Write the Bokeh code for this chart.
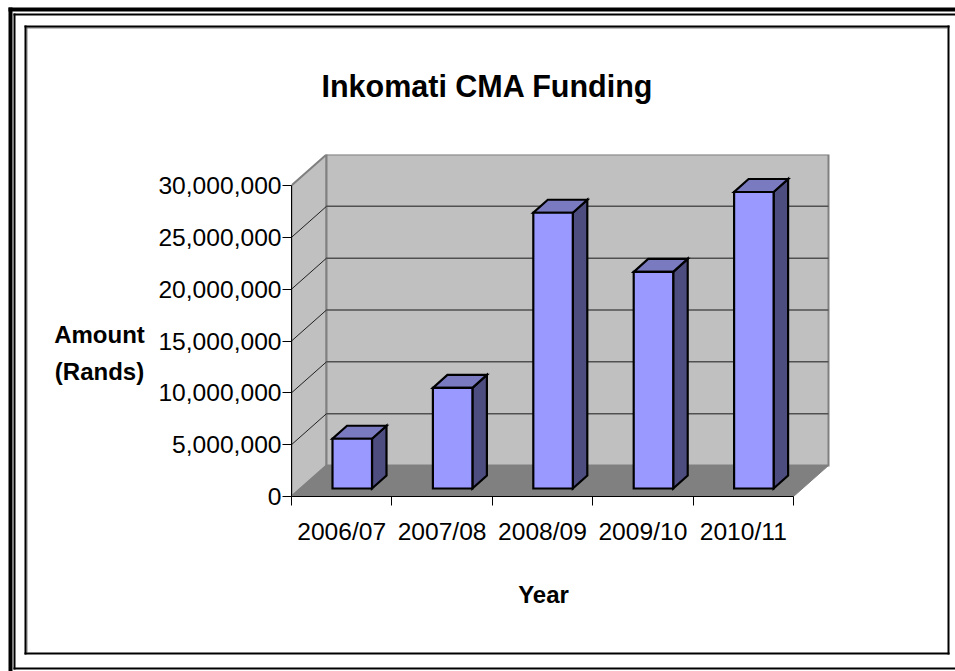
from bokeh.core.properties import value
from bokeh.embed import file_html
from bokeh.layouts import column
from bokeh.models import FixedTicker, LinearAxis, NumeralTickFormatter, Range1d
from bokeh.plotting import figure
from bokeh.resources import INLINE

# Funding per financial year, in rand
years = ["2006/07", "2007/08", "2008/09", "2009/10", "2010/11"]
amounts = [4_800_000, 9_700_000, 26_600_000, 20_900_000, 28_600_000]
y_ticks = [0, 5_000_000, 10_000_000, 15_000_000, 20_000_000, 25_000_000, 30_000_000]

# Canvas layout in pixels
W, H = 955, 671
FRAME_L, FRAME_R, FRAME_T, FRAME_B = 291, 830, 154, 496
PX_PER_CAT = 100.4
PX_PER_RAND = 311 / 30_000_000

# Oblique depth of the box and of each column, in data units
DEPTH_X, DEPTH_Y = 35 / PX_PER_CAT, 31 / PX_PER_RAND
BAR_DX, BAR_DY = 14.5 / PX_PER_CAT, 13 / PX_PER_RAND
BAR_W = 39.5 / PX_PER_CAT
BAR_LIFT = 8 / PX_PER_RAND
BAR_SHIFT = 41 / PX_PER_CAT

# Backdrop: a full-page figure in pixel coordinates for the rules and captions
page = figure(
    width=W, height=H, output_backend="svg", toolbar_location=None,
    x_range=Range1d(0, W), y_range=Range1d(H, 0),
    x_axis_type=None, y_axis_type=None,
    min_border_left=0, min_border_right=0, min_border_top=0, min_border_bottom=0,
    background_fill_color="white", border_fill_color="white",
    outline_line_color=None, margin=(0, 0, 0, 0), frame_align=False,
)
page.grid.visible = False

# Soft grey edge inside the chart's framed box
page.quad(left=[26, 26], right=[27, 947], top=[27, 27], bottom=[652, 28],
          fill_color="#808080", line_color=None)

rule_l = [8, 8, 13, 13, 13, 24, 24, 947, 24]
rule_r = [12, W, 15, W, W, 26, 949, 949, 949]
rule_t = [7, 7, 13, 13, 667, 25, 25, 25, 652]
rule_b = [H, 11, 669, 15, 669, 654, 27, 654, 654]
page.quad(left=rule_l, right=rule_r, top=rule_t, bottom=rule_b,
          fill_color="black", line_color=None)

captions = ["Inkomati CMA Funding", "Amount", "(Rands)", "Year"]
caption_x = [487, 99, 99, 543]
caption_y = [85, 334, 371, 594]
caption_size = ["30.5px", "24px", "24px", "24px"]
for text, cx, cy, size in zip(captions, caption_x, caption_y, caption_size):
    page.text([cx], [cy], text=[text], text_align="center", text_baseline="alphabetic",
              text_font=value("Liberation Sans"), text_font_style="bold",
              text_font_size=value(size), text_color="black")

# Chart: transparent figure laid over the backdrop
p = figure(
    width=W, height=H, output_backend="svg", toolbar_location=None,
    x_range=Range1d(0, (FRAME_R - FRAME_L) / PX_PER_CAT),
    y_range=Range1d(0, (FRAME_B - FRAME_T) / PX_PER_RAND),
    x_axis_type=None, y_axis_type=None,
    min_border_left=FRAME_L, min_border_right=W - FRAME_R,
    min_border_top=FRAME_T, min_border_bottom=H - FRAME_B,
    background_fill_alpha=0, border_fill_alpha=0,
    outline_line_color=None, margin=(-H, 0, 0, 0), frame_align=False,
)
p.grid.visible = False

n = len(years)

# Side wall, back wall and floor of the box
wall_line = dict(line_color="#808080", line_width=2, line_join="miter")
p.patch([0, DEPTH_X, DEPTH_X, 0], [0, DEPTH_Y, y_ticks[-1] + DEPTH_Y, y_ticks[-1]],
        fill_color="#C0C0C0", **wall_line)
p.patch([DEPTH_X, n + DEPTH_X, n + DEPTH_X, DEPTH_X],
        [DEPTH_Y, DEPTH_Y, y_ticks[-1] + DEPTH_Y, y_ticks[-1] + DEPTH_Y],
        fill_color="#C0C0C0", **wall_line)
p.patch([0, n, n + DEPTH_X, DEPTH_X], [0, 0, DEPTH_Y, DEPTH_Y],
        fill_color="#808080", line_color="#808080", line_width=1)

# Gridlines run across the back wall and slant down the side wall
grid = y_ticks[1:-1]
p.segment([DEPTH_X] * len(grid), [v + DEPTH_Y for v in grid],
          [n + DEPTH_X] * len(grid), [v + DEPTH_Y for v in grid],
          line_color="#505050", line_width=1.5)
p.segment([0] * len(grid), grid, [DEPTH_X] * len(grid), [v + DEPTH_Y for v in grid],
          line_color="#202020", line_width=1)

# Columns: side face, top face, then front face
bar_line = dict(line_color="black", line_width=2.2, line_join="miter")
for i, v in enumerate(amounts):
    x0 = i + BAR_SHIFT
    x1 = x0 + BAR_W
    y0 = BAR_LIFT
    y1 = BAR_LIFT + v
    p.patch([x1, x1 + BAR_DX, x1 + BAR_DX, x1], [y0, y0 + BAR_DY, y1 + BAR_DY, y1],
            fill_color="#4D4D80", **bar_line)
    p.patch([x0, x1, x1 + BAR_DX, x0 + BAR_DX], [y1, y1, y1 + BAR_DY, y1 + BAR_DY],
            fill_color="#7A7AC0", **bar_line)
    p.patch([x0, x1, x1, x0], [y0, y0, y1, y1], fill_color="#9999FF", **bar_line)

# Value axis, with its line stopping at the top tick
y_axis = LinearAxis(
    ticker=FixedTicker(ticks=y_ticks),
    formatter=NumeralTickFormatter(format="0,0"),
    bounds=(y_ticks[0], y_ticks[-1]),
    axis_line_color="black", axis_line_width=1,
    major_tick_line_color="black", major_tick_out=9, major_tick_in=0,
    minor_tick_line_color=None,
    major_label_text_font="Liberation Sans", major_label_text_font_size="24.6px",
    major_label_text_color="black", major_label_standoff=1,
    level="overlay",
)
p.add_layout(y_axis, "left")

# Year axis: labels sit mid-category, tick marks on the category boundaries
x_axis = LinearAxis(
    ticker=FixedTicker(ticks=[i + 0.5 for i in range(n)], minor_ticks=list(range(n + 1))),
    major_label_overrides={i + 0.5: years[i] for i in range(n)},
    bounds=(0, n),
    axis_line_color="black", axis_line_width=1,
    major_tick_line_color=None, major_tick_out=0, major_tick_in=0,
    minor_tick_line_color="black", minor_tick_out=9, minor_tick_in=0,
    major_label_text_font="Liberation Sans", major_label_text_font_size="24.6px",
    major_label_text_color="black", major_label_standoff=12,
    level="overlay",
)
p.add_layout(x_axis, "below")

layout = column(page, p, spacing=0, margin=(0, 0, 0, 0))
open("out.html", "w").write(file_html(layout, INLINE))
